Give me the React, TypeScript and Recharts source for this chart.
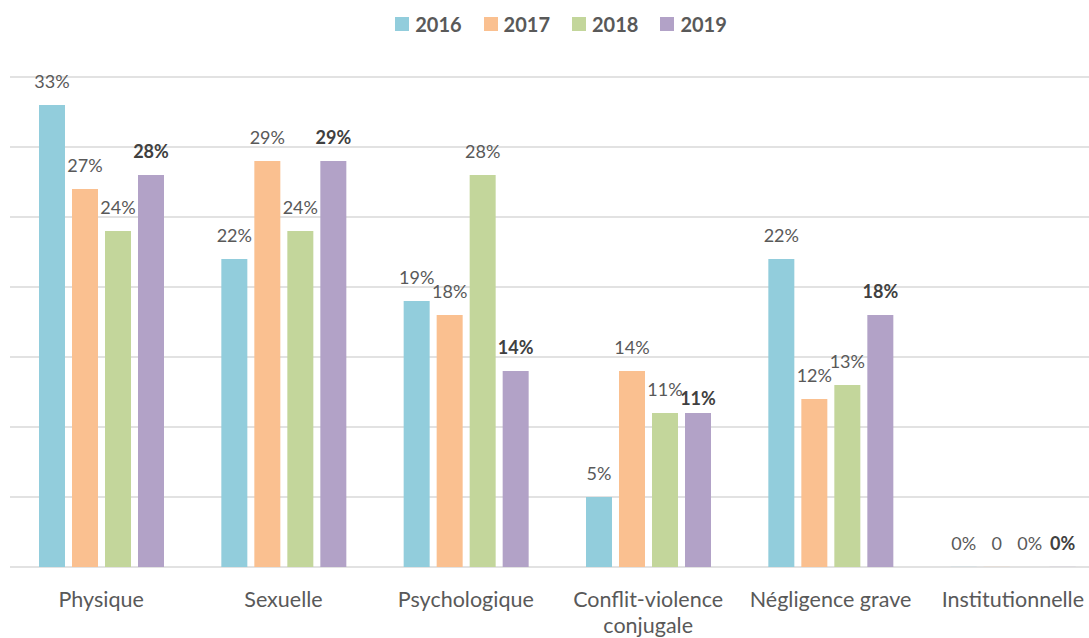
import { BarChart, Bar, XAxis, YAxis, CartesianGrid, LabelList } from "recharts";

const categories = [
  "Physique",
  "Sexuelle",
  "Psychologique",
  "Conflit-violence conjugale",
  "Négligence grave",
  "Institutionnelle",
];
const years = ["2016", "2017", "2018", "2019"];
const v2016 = [33, 22, 19, 5, 22, 0];
const v2017 = [27, 29, 18, 14, 12, 0];
const v2018 = [24, 24, 28, 11, 13, 0];
const v2019 = [28, 29, 14, 11, 18, 0];
const yTicks = [0, 5, 10, 15, 20, 25, 30, 35];

const colors = ["#92CDDC", "#FAC090", "#C3D69B", "#B2A2C7"];
const FONT = "Lato, sans-serif";
const TEXT = "#595959";

const data = categories.map((name, i) => ({
  name,
  y2016: v2016[i],
  y2017: v2017[i],
  y2018: v2018[i],
  y2019: v2019[i],
}));

// label for one series; the bold (last) series drops lower when it would collide with its neighbour
function makeLabel(bold: boolean, zeroNoPct: boolean) {
  return (props: any) => {
    const { x, y, width, value, index } = props;
    const text = zeroNoPct && value === 0 ? "0" : `${value}%`;
    const collide = bold && value > 0 && v2018[index] === value;
    return (
      <text
        x={Number(x) + Number(width) / 2}
        y={Number(y) - (collide ? 8 : 17)}
        textAnchor="middle"
        fontFamily={FONT}
        fontSize={18}
        fontWeight={bold ? 700 : 400}
        fill={bold ? "#404040" : TEXT}
      >
        {text}
      </text>
    );
  };
}

function CategoryTick(props: any) {
  const { x, y, payload } = props;
  const label: string = payload.value;
  let lines = [label];
  if (label.length > 18) {
    const cut = label.lastIndexOf(" ");
    lines = [label.slice(0, cut), label.slice(cut + 1)];
  }
  return (
    <text x={x} y={y + 32} textAnchor="middle" fontFamily={FONT} fontSize={21.5} fill={TEXT}>
      {lines.map((l, i) => (
        <tspan key={i} x={x} dy={i === 0 ? 0 : 26}>
          {l}
        </tspan>
      ))}
    </text>
  );
}

export default function App() {
  const keys = ["y2016", "y2017", "y2018", "y2019"];
  return (
    <div
      style={{
        position: "absolute",
        left: 0,
        top: 0,
        width: 1089,
        height: 638,
        overflow: "hidden",
        background: "#fff",
      }}
    >
      <div
        style={{
          position: "absolute",
          top: 12,
          left: 0,
          width: 1122,
          display: "flex",
          justifyContent: "center",
          gap: 22,
          fontFamily: FONT,
          fontWeight: 700,
          fontSize: 20,
          color: TEXT,
        }}
      >
        {years.map((yr, i) => (
          <div key={yr} style={{ display: "flex", alignItems: "center", gap: 6 }}>
            <span style={{ width: 14, height: 14, background: colors[i], display: "inline-block" }} />
            <span>{yr}</span>
          </div>
        ))}
      </div>
      <BarChart
        width={1122}
        height={638}
        data={data}
        margin={{ top: 77, right: 18, bottom: 0, left: 10 }}
        barCategoryGap={29}
        barGap={7}
      >
        <CartesianGrid vertical={false} stroke="#D9D9D9" strokeWidth={1.5} />
        <YAxis hide domain={[0, 35]} ticks={yTicks} />
        <XAxis
          dataKey="name"
          height={71}
          axisLine={false}
          tickLine={false}
          interval={0}
          tick={<CategoryTick />}
        />
        {keys.map((k, i) => (
          <Bar key={k} dataKey={k} fill={colors[i]} minPointSize={0.1} isAnimationActive={false}>
            <LabelList dataKey={k} content={makeLabel(i === 3, i === 1)} />
          </Bar>
        ))}
      </BarChart>
    </div>
  );
}
